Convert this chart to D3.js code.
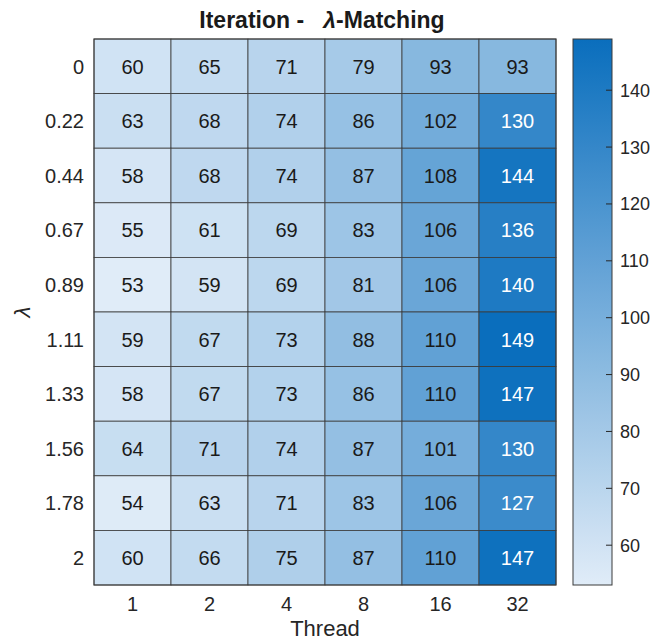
<!DOCTYPE html>
<html>
<head>
<meta charset="utf-8">
<script src="https://cdn.jsdelivr.net/npm/d3@7"></script>
<style>
  html, body { margin: 0; padding: 0; background: #fff; }
  svg { display: block; font-family: "Liberation Sans", Arial, Helvetica, sans-serif; }
</style>
</head>
<body>
<svg id="chart" width="657" height="643"></svg>
<script>
// Thread counts (columns) and lambda values (rows)
const threads = ["1", "2", "4", "8", "16", "32"];
const lambdas = ["0", "0.22", "0.44", "0.67", "0.89", "1.11", "1.33", "1.56", "1.78", "2"];

// Iteration counts, one array per lambda row, ordered by thread
const row0    = [60, 65, 71, 79, 93, 93];
const row022  = [63, 68, 74, 86, 102, 130];
const row044  = [58, 68, 74, 87, 108, 144];
const row067  = [55, 61, 69, 83, 106, 136];
const row089  = [53, 59, 69, 81, 106, 140];
const row111  = [59, 67, 73, 88, 110, 149];
const row133  = [58, 67, 73, 86, 110, 147];
const row156  = [64, 71, 74, 87, 101, 130];
const row178  = [54, 63, 71, 83, 106, 127];
const row2    = [60, 66, 75, 87, 110, 147];
const rows = [row0, row022, row044, row067, row089, row111, row133, row156, row178, row2];

const colorTicks = [60, 70, 80, 90, 100, 110, 120, 130, 140];

const svg = d3.select("#chart");
const margin = { left: 94, right: 556, top: 39, bottom: 585 };

const cells = [];
rows.forEach((vals, i) => vals.forEach((v, j) => cells.push({ lam: lambdas[i], thr: threads[j], v })));
const allVals = cells.map(d => d.v);
const vMin = d3.min(allVals), vMax = d3.max(allVals);

const x = d3.scaleBand().domain(threads).range([margin.left, margin.right]);
const y = d3.scaleBand().domain(lambdas).range([margin.top, margin.bottom]);
const color = d3.scaleLinear()
  .domain([vMin, vMax])
  .range(["#e0ecf8", "#0a6ebd"])
  .interpolate(d3.interpolateRgb);

// Heatmap cells
svg.append("g").selectAll("rect").data(cells).join("rect")
  .attr("x", d => x(d.thr))
  .attr("y", d => y(d.lam))
  .attr("width", x.bandwidth())
  .attr("height", y.bandwidth())
  .attr("fill", d => color(d.v))
  .attr("stroke", "#3a3a3a")
  .attr("stroke-width", 0.8);

// Cell value labels, white on dark cells
svg.append("g").selectAll("text").data(cells).join("text")
  .attr("x", d => x(d.thr) + x.bandwidth() / 2)
  .attr("y", d => y(d.lam) + y.bandwidth() / 2)
  .attr("dy", "0.36em")
  .attr("text-anchor", "middle")
  .attr("font-size", 20)
  .attr("fill", d => {
    const c = d3.rgb(color(d.v));
    const lum = 0.299 * c.r + 0.587 * c.g + 0.114 * c.b;
    return lum < 130 ? "#ffffff" : "#1a1a1a";
  })
  .text(d => d.v);

// Outer frame
svg.append("rect")
  .attr("x", margin.left).attr("y", margin.top)
  .attr("width", margin.right - margin.left).attr("height", margin.bottom - margin.top)
  .attr("fill", "none").attr("stroke", "#3a3a3a").attr("stroke-width", 1);

// Y tick labels
svg.append("g").selectAll("text").data(lambdas).join("text")
  .attr("x", 84)
  .attr("y", d => y(d) + y.bandwidth() / 2)
  .attr("dy", "0.36em")
  .attr("text-anchor", "end")
  .attr("font-size", 20)
  .attr("fill", "#262626")
  .text(d => d);

// X tick labels
svg.append("g").selectAll("text").data(threads).join("text")
  .attr("x", d => x(d) + x.bandwidth() / 2)
  .attr("y", 611)
  .attr("text-anchor", "middle")
  .attr("font-size", 20)
  .attr("fill", "#262626")
  .text(d => d);

// Axis titles
svg.append("text")
  .attr("x", (margin.left + margin.right) / 2)
  .attr("y", 636)
  .attr("text-anchor", "middle")
  .attr("font-size", 22)
  .attr("fill", "#262626")
  .text("Thread");

svg.append("text")
  .attr("transform", `translate(30, ${(margin.top + margin.bottom) / 2}) rotate(-90)`)
  .attr("text-anchor", "middle")
  .attr("font-size", 22)
  .attr("fill", "#262626")
  .attr("font-style", "italic")
  .text("λ");

// Title
const title = svg.append("text")
  .attr("x", (margin.left + margin.right) / 2 - 3)
  .attr("y", 28)
  .attr("text-anchor", "middle")
  .attr("font-size", 23)
  .attr("font-weight", "bold")
  .attr("fill", "#1a1a1a")
  .attr("xml:space", "preserve");
title.append("tspan").text("Iteration -   ");
title.append("tspan").attr("font-style", "italic").text("λ");
title.append("tspan").text("-Matching");

// Colorbar
const cb = { x0: 573, x1: 612 };
const cy = d3.scaleLinear().domain([vMin, vMax]).range([margin.bottom, margin.top]);
const defs = svg.append("defs");
const grad = defs.append("linearGradient").attr("id", "cbgrad")
  .attr("x1", 0).attr("y1", 1).attr("x2", 0).attr("y2", 0);
d3.range(0, 1.0001, 0.1).forEach(t => {
  grad.append("stop").attr("offset", t).attr("stop-color", color(vMin + t * (vMax - vMin)));
});
svg.append("rect")
  .attr("x", cb.x0).attr("y", margin.top)
  .attr("width", cb.x1 - cb.x0).attr("height", margin.bottom - margin.top)
  .attr("fill", "url(#cbgrad)")
  .attr("stroke", "#3a3a3a").attr("stroke-width", 1);

const cbTicks = svg.append("g").selectAll("g").data(colorTicks).join("g");
cbTicks.append("line")
  .attr("x1", cb.x1 - 6).attr("x2", cb.x1)
  .attr("y1", d => cy(d)).attr("y2", d => cy(d))
  .attr("stroke", "#262626").attr("stroke-width", 1);
cbTicks.append("text")
  .attr("x", cb.x1 + 8)
  .attr("y", d => cy(d))
  .attr("dy", "0.36em")
  .attr("font-size", 18)
  .attr("fill", "#262626")
  .text(d => d);
</script>
</body>
</html>
